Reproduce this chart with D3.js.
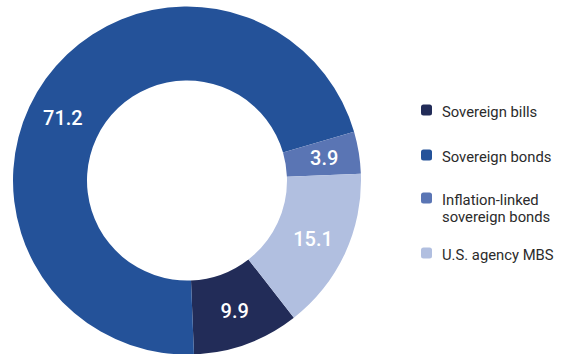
<!DOCTYPE html>
<html>
<head>
<meta charset="utf-8">
<script src="https://cdn.jsdelivr.net/npm/d3@7"></script>
<style>
  html, body { margin: 0; padding: 0; background: #ffffff; }
  svg { display: block; }
</style>
</head>
<body>
<svg id="chart" width="566" height="354"></svg>
<script>
// Portfolio composition, percent
const categories = ["Sovereign bills", "Sovereign bonds", "Inflation-linked sovereign bonds", "U.S. agency MBS"];
const legendLines = [["Sovereign bills"], ["Sovereign bonds"], ["Inflation-linked", "sovereign bonds"], ["U.S. agency MBS"]];
const values = [9.9, 71.2, 3.9, 15.1];
const colors = ["#222c58", "#245299", "#5a75b4", "#b1bfe0"];

const svg = d3.select("#chart");
const cx = 187, cy = 180.5;
const outerR = 174, innerR = 100;

const startDeg = 142.1;
const pie = d3.pie()
  .value(d => d.value)
  .sort(null)
  .startAngle(startDeg * Math.PI / 180)
  .endAngle((startDeg + 360) * Math.PI / 180);

const data = categories.map((c, i) => ({ name: c, value: values[i], color: colors[i] }));
const arcs = pie(data);

const arc = d3.arc().innerRadius(innerR).outerRadius(outerR);
const labelArc = d3.arc().innerRadius(innerR + 2).outerRadius(outerR + 2);

const g = svg.append("g").attr("transform", `translate(${cx},${cy})`);

g.selectAll("path.slice")
  .data(arcs)
  .join("path")
  .attr("class", "slice")
  .attr("d", arc)
  .attr("fill", d => d.data.color);

// Value labels: centroid of each ring segment; the large segment's label is nudged toward the upper left
const labelShift = { "Sovereign bonds": -9 * Math.PI / 180 };
g.selectAll("text.value")
  .data(arcs)
  .join("text")
  .attr("class", "value")
  .attr("transform", d => {
    const shift = labelShift[d.data.name] || 0;
    const p = labelArc.centroid({ startAngle: d.startAngle + shift, endAngle: d.endAngle + shift });
    return `translate(${p[0]},${p[1]})`;
  })
  .attr("text-anchor", "middle")
  .attr("dy", "0.36em")
  .attr("fill", "#ffffff")
  .attr("font-family", "Roboto, 'DejaVu Sans', sans-serif")
  .attr("font-weight", 500)
  .attr("font-size", "20px")
  .text(d => d3.format(".1f")(d.data.value));

// Legend
const legendY = [110, 155, 198, 253];
const legend = svg.append("g").attr("transform", "translate(421,0)");
const items = legend.selectAll("g.item")
  .data(data)
  .join("g")
  .attr("class", "item")
  .attr("transform", (d, i) => `translate(0,${legendY[i]})`);

items.append("rect")
  .attr("x", 0).attr("y", -5.5)
  .attr("width", 11).attr("height", 11)
  .attr("rx", 2.5)
  .attr("fill", d => d.color);

items.append("text")
  .attr("x", 21)
  .attr("font-family", "Roboto, 'DejaVu Sans', sans-serif")
  .attr("font-size", "14.8px")
  .attr("fill", "#2b2b2b")
  .each(function(d, i) {
    const lines = legendLines[i];
    const t = d3.select(this);
    lines.forEach((line, j) => {
      t.append("tspan")
        .attr("x", 21)
        .attr("y", 6.5 + j * 17)
        .text(line);
    });
  });
</script>
</body>
</html>
